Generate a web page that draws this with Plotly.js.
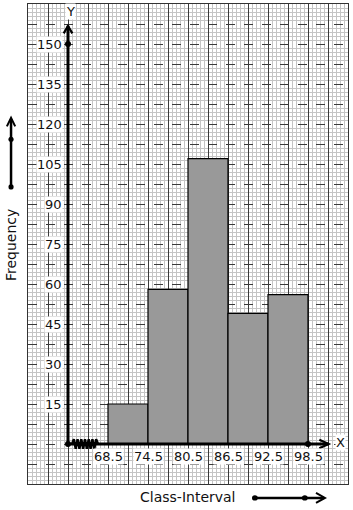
<!DOCTYPE html>
<html>
<head>
<meta charset="utf-8">
<script src="https://cdn.plot.ly/plotly-3.0.1.min.js"></script>
<style>html,body{margin:0;padding:0;background:#fff;}#chart{width:353px;height:510px;}</style>
</head>
<body>
<div id="chart"></div>
<script>
// Data
const classStart = [68.5, 74.5, 80.5, 86.5, 92.5];
const classEnd   = [74.5, 80.5, 86.5, 92.5, 98.5];
const frequency  = [15, 58, 107, 49, 56];
const xTickLabels = ['68.5', '74.5', '80.5', '86.5', '92.5', '98.5'];
const yTickValues = [15, 30, 45, 60, 75, 90, 105, 120, 135, 150];

// Axis layout constants (broken x axis: origin drawn at 62.5)
const xOrigin = 62.5;
const xMin = 56.5, xMax = 104.5;
const yMin = -15, yMax = 165;
const font = 'DejaVu Sans, sans-serif';

const mids = classStart.map((s, i) => (s + classEnd[i]) / 2);
const widths = classStart.map((s, i) => classEnd[i] - s);

const bars = {
  type: 'bar', x: mids, y: frequency, width: widths,
  marker: {color: '#999999', line: {color: '#000', width: 1.2}},
  hoverinfo: 'skip'
};

// zigzag break symbol on x axis
const zx = [], zy = [];
const zStart = 63.1, zEnd = 67.0, nTeeth = 14;
for (let i = 0; i <= nTeeth; i++) {
  zx.push(zStart + (zEnd - zStart) * i / nTeeth);
  zy.push(i === 0 || i === nTeeth ? 0 : (i % 2 === 1 ? 1.8 : -1.8));
}
const zig = {type: 'scatter', mode: 'lines', x: zx, y: zy,
  line: {color: '#000', width: 2.4}, hoverinfo: 'skip'};

const dots = {type: 'scatter', mode: 'markers',
  x: [xOrigin, xOrigin, 98.5], y: [0, 150, 0],
  marker: {color: '#000', size: 6}, hoverinfo: 'skip', cliponaxis: false};

const yTop = 156.8, xRight = 101.6;
const shapes = [
  {type: 'line', xref: 'x', yref: 'y', x0: xOrigin, y0: 0, x1: xOrigin, y1: yTop, line: {color: '#000', width: 3}},
  {type: 'path', xref: 'x', yref: 'y', path: `M ${xOrigin-0.65} 154 L ${xOrigin} ${yTop} L ${xOrigin+0.65} 154`, line: {color: '#000', width: 2.2}},
  {type: 'line', xref: 'x', yref: 'y', x0: xOrigin, y0: 0, x1: xRight, y1: 0, line: {color: '#000', width: 3}},
  {type: 'path', xref: 'x', yref: 'y', path: `M ${xRight-1.4} 1.6 L ${xRight} 0 L ${xRight-1.4} -1.6`, line: {color: '#000', width: 2.2}},
  // left arrow (Frequency)
  {type: 'line', xref: 'paper', yref: 'paper', x0: -0.053, y0: 0.619, x1: -0.053, y1: 0.76, line: {color: '#000', width: 2.5}},
  {type: 'path', xref: 'paper', yref: 'paper', path: 'M -0.066 0.745 L -0.053 0.763 L -0.040 0.745', line: {color: '#000', width: 2}},
  {type: 'circle', xref: 'paper', yref: 'paper', x0: -0.061, x1: -0.045, y0: 0.7125, y1: 0.7235, fillcolor: '#000', line: {width: 0}},
  {type: 'circle', xref: 'paper', yref: 'paper', x0: -0.061, x1: -0.045, y0: 0.6135, y1: 0.6245, fillcolor: '#000', line: {width: 0}},
  // bottom arrow (Class-Interval)
  {type: 'line', xref: 'paper', yref: 'paper', x0: 0.709, y0: -0.029, x1: 0.925, y1: -0.029, line: {color: '#000', width: 2.5}},
  {type: 'path', xref: 'paper', yref: 'paper', path: 'M 0.90 -0.0185 L 0.928 -0.029 L 0.90 -0.0395', line: {color: '#000', width: 2}},
  {type: 'circle', xref: 'paper', yref: 'paper', x0: 0.700, x1: 0.718, y0: -0.0345, y1: -0.0235, fillcolor: '#000', line: {width: 0}},
  {type: 'circle', xref: 'paper', yref: 'paper', x0: 0.856, x1: 0.874, y0: -0.0345, y1: -0.0235, fillcolor: '#000', line: {width: 0}}
];

const annotations = [];
yTickValues.forEach(v => annotations.push({
  x: 61.7, y: v, xref: 'x', yref: 'y', text: String(v), showarrow: false,
  xanchor: 'right', yanchor: 'middle', bgcolor: '#fff', borderpad: 0,
  font: {family: font, size: 13, color: '#111'}
}));
const xTickValues = classStart.concat([classEnd[classEnd.length - 1]]);
xTickValues.forEach((v, i) => annotations.push({
  x: v, y: -4.6, xref: 'x', yref: 'y', text: xTickLabels[i], showarrow: false,
  xanchor: 'center', yanchor: 'middle', bgcolor: '#fff', borderpad: 0,
  font: {family: font, size: 13, color: '#111'}
}));
annotations.push(
  {x: 62.85, y: 162.3, xref: 'x', yref: 'y', text: 'Y', showarrow: false, bgcolor: '#fff', borderpad: 0,
   xanchor: 'center', yanchor: 'middle', font: {family: font, size: 13, color: '#111'}},
  {x: 103.3, y: 0.4, xref: 'x', yref: 'y', text: 'X', showarrow: false, bgcolor: '#fff', borderpad: 0,
   xanchor: 'center', yanchor: 'middle', font: {family: font, size: 13, color: '#111'}},
  {x: -0.053, y: 0.498, xref: 'paper', yref: 'paper', text: 'Frequency', showarrow: false, textangle: -90,
   xanchor: 'center', yanchor: 'middle', font: {family: font, size: 14, color: '#111'}},
  {x: 0.5, y: -0.027, xref: 'paper', yref: 'paper', text: 'Class-Interval', showarrow: false,
   xanchor: 'center', yanchor: 'middle', font: {family: font, size: 14, color: '#111'}}
);

const layout = {
  width: 353, height: 510,
  margin: {l: 28, r: 5, t: 4, b: 26, pad: 0},
  paper_bgcolor: '#fff', plot_bgcolor: '#fff',
  showlegend: false,
  xaxis: {
    range: [xMin, xMax], tick0: xMin, dtick: 3, showticklabels: false, ticks: '',
    showgrid: true, gridcolor: '#3a3a3a', gridwidth: 1, zeroline: false,
    showline: true, mirror: true, linecolor: '#333', linewidth: 1,
    minor: {tick0: xMin, dtick: 0.6, showgrid: true, gridcolor: '#c4c4c4', gridwidth: 1, griddash: 'solid'}
  },
  yaxis: {
    range: [yMin, yMax], tick0: 0, dtick: 7.5, showticklabels: false, ticks: '',
    showgrid: true, gridcolor: '#3a3a3a', gridwidth: 1, griddash: 'dash', zeroline: false,
    showline: true, mirror: true, linecolor: '#333', linewidth: 1,
    minor: {tick0: 0, dtick: 1.5, showgrid: true, gridcolor: '#c4c4c4', gridwidth: 1, griddash: 'solid'}
  },
  shapes: shapes,
  annotations: annotations
};

Plotly.newPlot('chart', [bars, zig, dots], layout, {displayModeBar: false, staticPlot: true});
</script>
</body>
</html>
